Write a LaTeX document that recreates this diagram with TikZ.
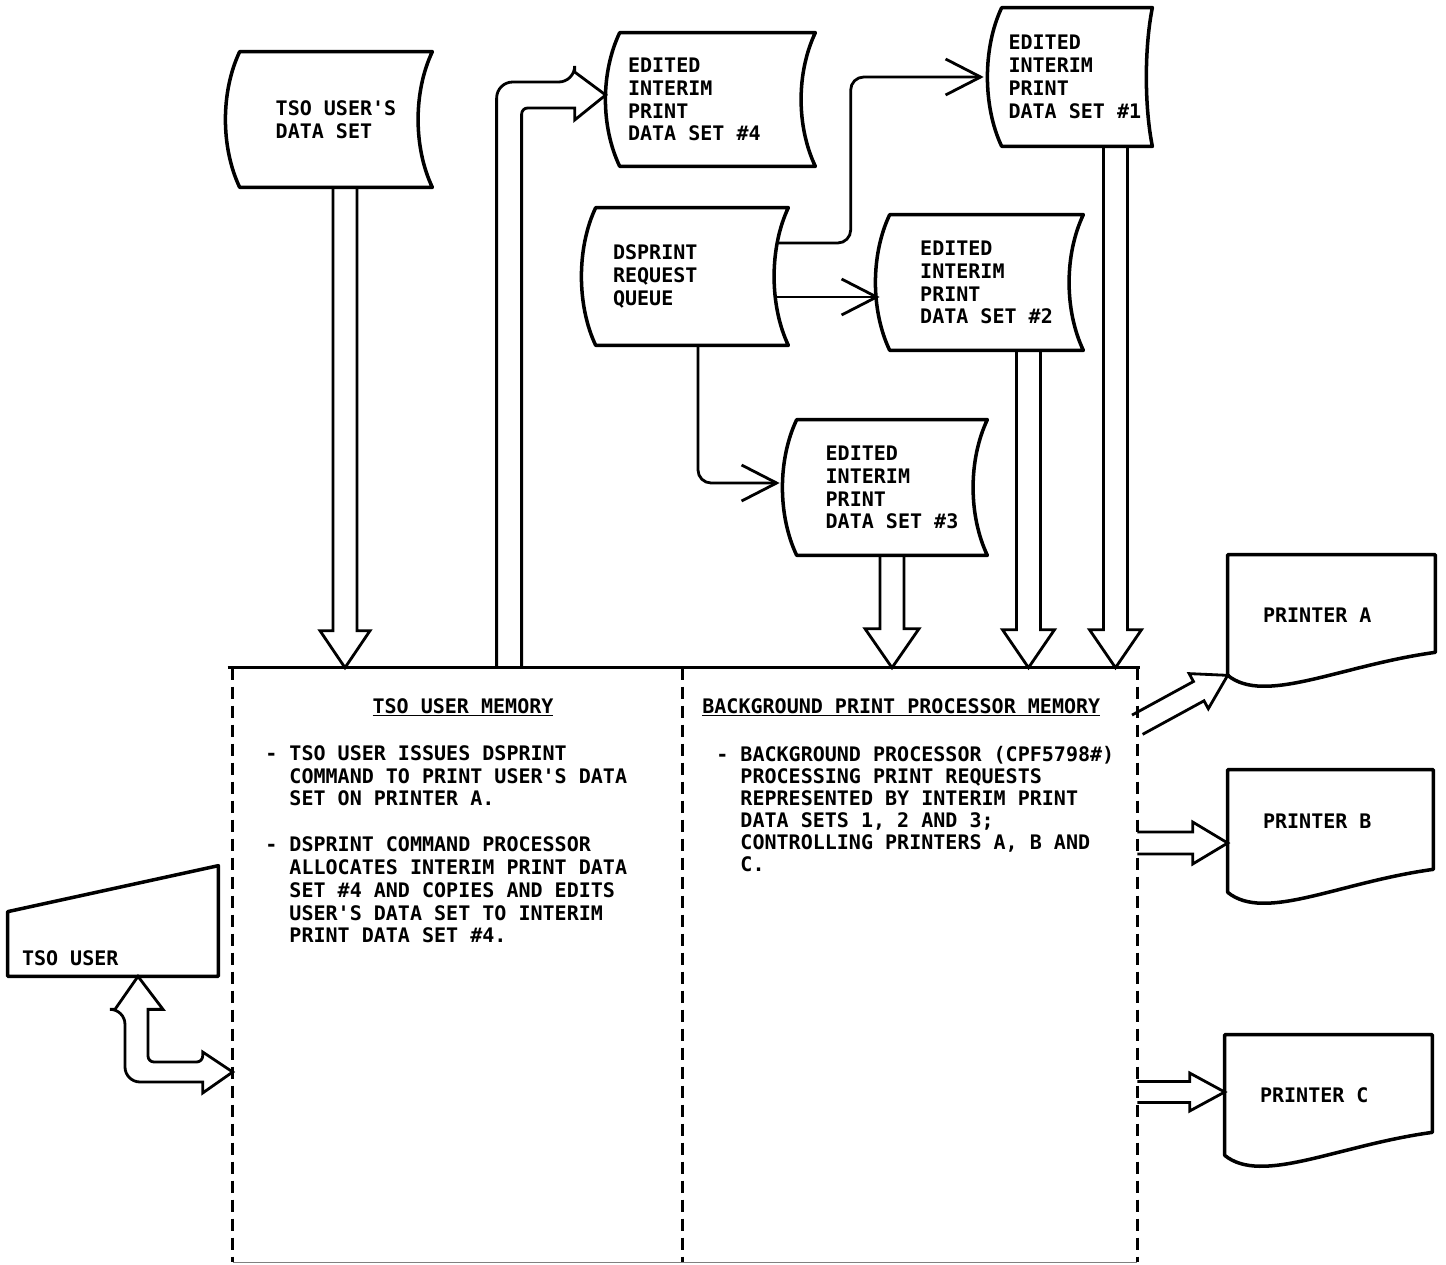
\documentclass[tikz,border=0pt]{standalone}
\usepackage{fontspec}
\setmonofont{DejaVu Sans Mono}
\usetikzlibrary{arrows.meta, calc, positioning}

\newcommand\ibm{\ttfamily\bfseries\fontsize{11.4pt}{13pt}\selectfont}
\newcommand\ind{\hphantom{-\ }}

% stored data outline (both sides bowed to the left)
\newcommand\storeline[2][19]{%
  \draw[outline] (#2.north west) -- (#2.north east)
    .. controls +(-#1,40) and +(-#1,-40) .. (#2.south east)
    -- (#2.south west)
    .. controls +(-19,-40) and +(-19,40) .. (#2.north west) -- cycle;}
% printed document outline (wavy bottom)
\newcommand\printline[1]{%
  \draw[outline] (#1.south west) -- (#1.north west) -- (#1.north east)
    -- ([yshift=0.46cm]#1.south east)
    .. controls +(-95,13) and +(37,30) .. (#1.south west) -- cycle;}
% hollow arrow: start, tip, half shaft, half head, head length
\newcommand\fatarrow[5]{%
  \coordinate (fb) at ($(#2)!#5!(#1)$);
  \draw[fat] ($(#1)!#3!-90:(#2)$) -- ($(fb)!#3!-90:(#2)$)
    -- ($(fb)!#4!-90:(#2)$) -- (#2) -- ($(fb)!#4!90:(#2)$)
    -- ($(fb)!#3!90:(#2)$) -- ($(#1)!#3!90:(#2)$);}

\tikzset{
  store/.style   = {inner sep=0pt, align=left, font=\ibm,
                    execute at begin node={\spaceskip=0pt\xspaceskip=0pt}},
  txt/.style     = {inner sep=0pt, align=left, font=\ibm},
  outline/.style = {line width=2pt, line join=round},
  flow/.style    = {line width=1.6pt, rounded corners=0.26cm,
                    -{Straight Barb[length=0.7cm, width=0.72cm]}},
  fat/.style     = {line width=1.6pt, line join=miter},
  memline/.style = {line width=1.5pt, dash pattern=on 0.24cm off 0.14cm},
}

\begin{document}
\begin{tikzpicture}[x=0.02cm, y=-0.02cm]
  \useasboundingbox (0,0) rectangle (1446,1264);

  % --- data sets ---
  \node[store, minimum width=3.84cm, minimum height=2.7cm] (dset) at (336,119.5)
        {TSO USER'S\\DATA SET};
  \node[store, minimum width=3.9cm, minimum height=2.66cm, text width=3.58cm,
        inner xsep=0.16cm] (ds4) at (717.5,99.5)
        {EDITED\\INTERIM\\PRINT\\DATA SET \#4};
  \node[store, minimum width=3cm, minimum height=2.76cm, text width=2.74cm,
        inner xsep=0.13cm] (ds1) at (1077,77)
        {EDITED\\INTERIM\\PRINT\\DATA SET \#1};
  \node[store, minimum width=3.84cm, minimum height=2.74cm, text width=3.16cm,
        inner xsep=0.34cm] (dsq) at (692,276.5)
        {DSPRINT\\REQUEST\\QUEUE};
  \node[store, minimum width=3.86cm, minimum height=2.7cm] (ds2) at (986.5,282.5)
        {EDITED\\INTERIM\\PRINT\\DATA SET \#2};
  \node[store, minimum width=3.8cm, minimum height=2.7cm] (ds3) at (892,487.5)
        {EDITED\\INTERIM\\PRINT\\DATA SET \#3};
  \storeline{dset} \storeline{ds4} \storeline[8]{ds1}
  \storeline{dsq} \storeline{ds2} \storeline{ds3}

  % --- printers ---
  \node[store, minimum width=4.14cm, minimum height=2.4cm, text width=2.74cm,
        inner xsep=0.7cm] (prA) at (1331.5,615) {PRINTER A};
  \node[store, minimum width=4.1cm, minimum height=2.44cm, text width=2.7cm,
        inner xsep=0.7cm] (prB) at (1330.5,831)
        {\raisebox{0.2cm}[8.3pt][0pt]{PRINTER B}};
  \node[store, minimum width=4.14cm, minimum height=2.4cm, text width=2.74cm,
        inner xsep=0.7cm] (prC) at (1328.5,1095) {PRINTER C};
  \printline{prA} \printline{prB} \printline{prC}

  % --- terminal ---
  \node[store, text width=3.64cm, inner xsep=0.28cm, text height=1.99cm,
        text depth=0.21cm] (user) at (113,921) {TSO USER};
  \draw[outline] (user.south west) -- (user.south east) -- (user.north east)
    -- ([yshift=-0.92cm]user.north west) -- cycle;

  % --- memory ---
  \node[minimum width=9cm, minimum height=11.88cm, inner sep=0pt] (memL) at (458,965) {};
  \node[minimum width=9.08cm, minimum height=11.88cm, inner sep=0pt] (memR) at (910,965) {};
  \draw[line width=1.4pt] ([xshift=-0.1cm]memL.north west) -- ([xshift=0.06cm]memR.north east);
  \draw[memline] (memL.north west) -- (memL.south west);
  \draw[memline] (memR.north west) -- (memR.south west);
  \draw[memline] (memR.north east) -- (memR.south east);
  \draw[line width=0.6pt, black!50] (memL.south west) -- (memR.south east);

  \node[txt, anchor=base] (hL) at (463,713) {\underline{TSO USER MEMORY}};
  \node[txt, anchor=base west] (hR) at (702,713)
        {\underline{BACKGROUND PRINT PROCESSOR MEMORY}};
  \node[txt, anchor=north west] (noteL) at (265,745)
        {- TSO USER ISSUES DSPRINT\\
         \ind COMMAND TO PRINT USER'S DATA\\
         \ind SET ON PRINTER A.\\[13pt]
         - DSPRINT COMMAND PROCESSOR\\
         \ind ALLOCATES INTERIM PRINT DATA\\
         \ind SET \#4 AND COPIES AND EDITS\\
         \ind USER'S DATA SET TO INTERIM\\
         \ind PRINT DATA SET \#4.};
  \node[txt, anchor=north west, font=\ibm\fontsize{11.4pt}{12.5pt}\selectfont] (noteR) at (716,746)
        {- BACKGROUND PROCESSOR (CPF5798\#)\\
         \ind PROCESSING PRINT REQUESTS\\
         \ind REPRESENTED BY INTERIM PRINT\\
         \ind DATA SETS 1, 2 AND 3;\\
         \ind CONTROLLING PRINTERS A, B AND\\
         \ind C.};

  % --- request queue flows ---
  \coordinate (qa) at ([shift={(-10,-33.5)}]dsq.east);
  \coordinate (a1) at ([xshift=-0.36cm]ds1.west);
  \draw[flow] (qa) -| ([xshift=-2.66cm]a1) -- (a1);
  \draw[flow] ([shift={(-12,20.5)}]dsq.east) -- ([shift={(-10,14.5)}]ds2.west);
  \draw[flow] ([xshift=0.12cm]dsq.south) |- ([shift={(-17,-4.5)}]ds3.west);

  % --- data into memory ---
  \coordinate (f1) at ([xshift=0.18cm]dset.south);
  \coordinate (t1) at (f1 |- memL.north);
  \fatarrow{f1}{t1}{0.24cm}{0.5cm}{0.74cm}
  \coordinate (f3) at (ds3.south);
  \coordinate (t3) at (f3 |- memR.north);
  \fatarrow{f3}{t3}{0.24cm}{0.54cm}{0.78cm}
  \coordinate (f2) at ([xshift=0.84cm]ds2.south);
  \coordinate (t2) at (f2 |- memR.north);
  \fatarrow{f2}{t2}{0.24cm}{0.52cm}{0.76cm}
  \coordinate (f5) at ([xshift=0.77cm]ds1.south);
  \coordinate (t5) at (f5 |- memR.north);
  \fatarrow{f5}{t5}{0.24cm}{0.52cm}{0.76cm}

  % --- memory out to data set 4 ---
  \coordinate (f4) at ([xshift=5.53cm]memL.north west);
  \coordinate (t4) at ([shift={(-14,-4.5)}]ds4.west);
  \draw[fat] ([xshift=-0.25cm]f4) [rounded corners=0.32cm] |- ([shift={(-31,-13)}]t4)
    [sharp corners] -- ([shift={(-31,-23)}]t4) -- (t4) -- ([shift={(-31,25)}]t4)
    -- ([shift={(-31,13)}]t4) [rounded corners=0.12cm] -| ([xshift=0.25cm]f4);

  % --- printers ---
  \coordinate (tA) at (prA.south west);
  \coordinate (sA) at ([yshift=-1.14cm]memR.north east);
  \fatarrow{sA}{tA}{0.22cm}{0.4cm}{0.66cm}
  \coordinate (tB) at ([yshift=-0.24cm]prB.west);
  \coordinate (sB) at (tB -| memR.east);
  \fatarrow{sB}{tB}{0.22cm}{0.42cm}{0.7cm}
  \coordinate (tC) at ([yshift=0.06cm]prC.west);
  \coordinate (sC) at (tC -| memR.east);
  \fatarrow{sC}{tC}{0.21cm}{0.38cm}{0.7cm}

  % --- terminal to memory ---
  \coordinate (tu) at ([xshift=0.5cm]user.south);
  \coordinate (tr) at ([yshift=-2.14cm]memL.west);
  \draw[fat] (tu) -- ([shift={(25,33)}]tu) -- ([shift={(10,33)}]tu)
    [rounded corners=0.12cm] |- ([shift={(-30,-10)}]tr)
    [sharp corners] -- ([shift={(-30,-20)}]tr) -- (tr) -- ([shift={(-30,21)}]tr)
    -- ([shift={(-30,10)}]tr) [rounded corners=0.3cm] -| ([shift={(-13,33)}]tu)
    [sharp corners] -- ([shift={(-23,33)}]tu) -- cycle;

\end{tikzpicture}
\end{document}
